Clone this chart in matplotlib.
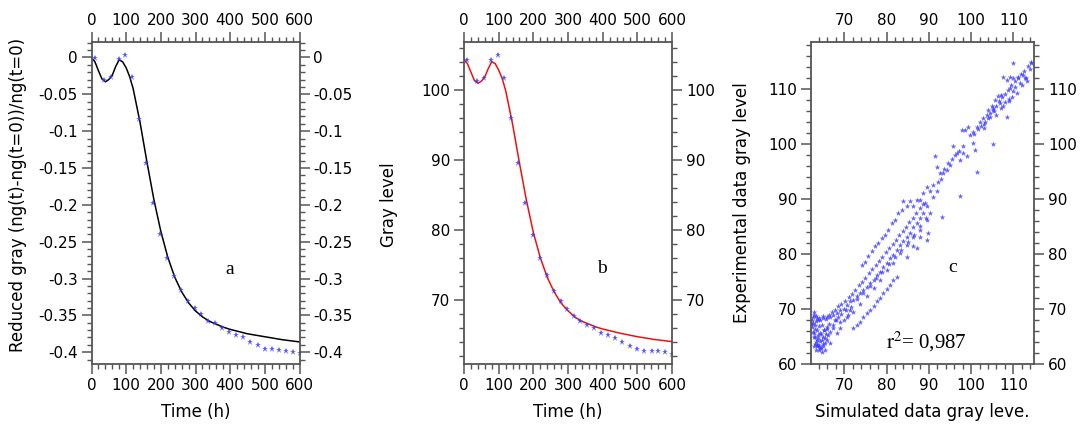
import matplotlib
matplotlib.use("Agg")
import matplotlib.pyplot as plt
from matplotlib.ticker import MultipleLocator, FuncFormatter

plt.rcParams['font.family'] = ['DejaVu Sans']
plt.rcParams['axes.unicode_minus'] = False
plt.rcParams['mathtext.fontset'] = 'stix'

# --- panel a / b : experimental points
t_exp = [10, 37, 57, 79, 97, 116, 136, 156, 177, 198, 218, 239, 259, 279, 298,
         317, 336, 356, 375, 396, 416, 437, 457, 479, 500, 520, 541, 560, 580, 600]
red_exp = [-0.001, -0.030, -0.027, -0.002, 0.004, -0.027, -0.083, -0.143, -0.197,
           -0.239, -0.272, -0.296, -0.315, -0.330, -0.340, -0.348, -0.357, -0.361,
           -0.367, -0.372, -0.376, -0.380, -0.386, -0.390, -0.395, -0.396, -0.397,
           -0.399, -0.400, -0.401]
gray_exp = [104.4, 101.3, 101.7, 104.4, 105.1, 101.7, 96.0, 89.6, 83.9, 79.4, 76.0,
            73.6, 71.4, 69.9, 68.8, 67.8, 67.0, 66.5, 66.0, 65.4, 65.1, 64.6, 64.1,
            63.5, 63.1, 62.8, 62.7, 62.7, 62.6, 62.4]

# --- panel a / b : model curves
t_mod = [0, 10, 20, 30, 40, 50, 60, 70, 80, 90, 100, 110, 120, 140, 160, 180, 200,
         220, 240, 260, 280, 300, 320, 340, 360, 380, 400, 450, 500, 550, 600]
red_mod = [0.0, -0.006, -0.018, -0.029, -0.033, -0.030, -0.024, -0.012, -0.003,
           -0.006, -0.014, -0.026, -0.042, -0.088, -0.142, -0.193, -0.236, -0.271,
           -0.298, -0.318, -0.333, -0.344, -0.352, -0.358, -0.362, -0.366, -0.369,
           -0.375, -0.379, -0.383, -0.386]
gray_mod = [104.4, 103.8, 102.6, 101.4, 101.0, 101.3, 101.9, 103.1, 104.1, 103.8,
            102.9, 101.7, 100.0, 95.2, 89.6, 84.3, 79.7, 76.1, 73.3, 71.2, 69.6,
            68.5, 67.6, 67.0, 66.6, 66.2, 65.9, 65.3, 64.8, 64.4, 64.1]

# --- panel c : simulated vs experimental gray level
sim = [62.3, 62.3, 62.7, 63.1, 63.5, 63.8, 64.2, 64.6, 65.0, 65.4, 65.8, 66.2, 66.6,
       67.4, 63.5, 64.2, 65.0, 63.1, 62.7, 62.8, 63.8, 64.6, 65.8, 64.2, 63.5, 65.4,
       66.6, 68.2, 69.0, 67.8, 68.6, 69.8, 70.9, 71.3,
       62.5, 63.0, 63.3, 64.0, 64.8, 65.2, 62.9, 63.7,
       89.5, 88.7, 87.9, 89.1, 87.1, 86.3, 85.5, 84.8, 84.0, 83.2, 82.4, 81.6, 80.8,
       80.0, 79.2, 78.4, 77.7, 76.9, 76.1, 75.3, 74.5, 73.7, 72.9, 72.1, 71.3, 70.6,
       69.8, 69.0, 68.2, 67.4, 66.6, 65.8, 65.0, 64.2, 63.5,
       90.3, 89.5, 87.9, 86.3, 84.8, 83.2, 81.6, 80.0, 78.4, 76.9, 75.3, 73.7, 72.1,
       70.6, 69.0, 67.4,
       72.1, 72.9, 73.7, 74.5, 75.3, 76.1, 76.9, 77.7, 78.4, 79.2, 80.0, 80.8, 81.6,
       82.4,
       84.8, 86.3, 87.9, 89.5,
       110.0, 114.3, 113.9, 112.4, 111.2, 110.0, 109.2, 108.4, 110.4, 109.2, 107.6,
       107.2, 106.4, 105.7, 104.9, 104.1, 103.7, 102.9, 102.1, 101.3, 100.5, 99.7,
       99.3, 98.6, 97.8, 105.3, 107.6, 108.4, 105.3, 101.3, 97.4, 93.0, 89.9, 87.1,
       100.5, 100.9, 99.0, 98.2, 96.6, 95.8, 97.4, 95.0, 94.2, 93.4, 92.6, 91.9, 91.5,
       92.2, 91.1, 90.3, 89.5, 88.7, 87.9, 87.1, 86.3, 85.5, 84.8, 84.0, 83.6, 82.8,
       82.0, 81.2, 80.4, 79.6, 78.8, 78.0, 77.3, 76.5, 75.7, 74.9, 74.1,
       111.5, 112.8, 113.2, 110.8, 109.6, 108.9, 106.8, 105.5, 104.6, 103.0,
       62.4, 62.6, 62.9, 63.2, 63.6, 64.0, 64.4, 64.9, 65.3, 65.7, 66.0, 66.4, 62.5,
       63.3, 64.0, 64.9, 65.6, 66.3, 67.0, 67.7, 68.4, 69.2, 63.0, 63.8, 64.5, 65.1,
       63.4, 64.1,
       70.2, 71.0, 71.8, 72.6, 73.4, 74.2, 75.0, 75.8, 76.6, 77.4, 78.2, 79.0, 79.8,
       80.6, 81.4, 82.2, 83.0, 83.8, 84.6, 85.4, 86.2, 87.0, 87.8, 88.6, 71.5, 73.0,
       74.5, 76.0, 77.5, 79.0, 80.5, 82.0, 83.5, 85.0, 86.5, 88.0, 89.3, 68.0, 69.3,
       70.4,
       104.5, 105.2, 105.9, 106.7, 107.4, 108.1, 108.8, 109.5, 110.3, 111.0, 111.8,
       112.6, 113.4, 114.2, 106.0, 107.0, 108.0, 109.0, 110.0, 103.2, 102.4, 101.6,
       100.8, 112.0, 113.0, 104.0, 103.0,
       92.8, 93.6, 94.5, 95.4, 96.3, 97.1, 98.0, 91.0, 92.0]
exper = [68.0, 66.8, 65.6, 65.0, 64.4, 63.5, 62.9, 62.2, 63.2, 63.8, 64.4, 65.3, 65.9,
         66.5, 66.2, 65.6, 65.0, 67.1, 68.9, 69.5, 68.0, 67.1, 66.8, 64.1, 63.2, 62.6,
         63.8, 65.6, 66.5, 68.0, 68.6, 68.0, 68.9, 69.8,
         67.5, 66.3, 67.8, 66.9, 64.3, 66.1, 63.3, 65.2,
         88.7, 87.4, 86.5, 89.3, 85.6, 85.0, 83.8, 83.2, 82.3, 81.7, 80.8, 79.9, 79.2,
         78.3, 77.7, 76.8, 76.2, 75.3, 74.7, 74.1, 73.5, 72.9, 72.3, 71.7, 71.4, 70.7,
         70.1, 69.8, 69.2, 68.9, 68.6, 68.6, 68.3, 68.0, 68.3,
         87.4, 86.2, 84.4, 83.2, 81.7, 80.2, 78.3, 77.1, 75.3, 73.8, 72.3, 71.0, 69.5,
         68.6, 67.7, 67.1,
         66.5, 67.1, 67.7, 68.6, 69.2, 69.8, 70.6, 71.4, 72.1, 72.9, 73.6, 74.4, 75.3,
         75.9,
         79.4, 81.4, 83.2, 82.6,
         114.8, 114.8, 113.6, 112.6, 112.3, 112.0, 112.3, 111.7, 110.5, 110.2, 112.3,
         109.0, 108.7, 108.1, 106.9, 106.3, 105.4, 104.7, 104.1, 103.2, 102.3, 101.7,
         103.2, 102.6, 102.6, 106.3, 106.9, 105.0, 100.0, 95.0, 90.5, 86.8, 83.8, 81.1,
         100.2, 99.0, 97.8, 98.4, 98.4, 99.6, 97.2, 96.2, 95.3, 94.7, 94.7, 95.9, 97.8,
         93.2, 92.6, 91.4, 92.3, 91.1, 89.9, 89.9, 88.7, 89.6, 88.7, 89.6, 88.0, 87.4,
         86.2, 85.6, 84.4, 83.5, 82.9, 82.0, 81.4, 80.5, 79.6, 78.6, 78.0,
         111.2, 112.0, 111.5, 109.4, 108.6, 107.9, 107.5, 106.0, 105.0, 103.6,
         67.2, 65.9, 64.9, 64.0, 63.4, 62.5, 62.9, 63.6, 64.7, 65.5, 66.4, 67.2, 68.5,
         68.7, 68.4, 68.8, 68.1, 68.9, 69.4, 69.9, 70.5, 71.0, 63.6, 64.8, 65.4, 66.1,
         62.6, 63.3,
         71.5, 72.2, 72.8, 73.5, 74.3, 75.0, 75.6, 76.5, 77.2, 78.0, 78.8, 79.5, 80.4,
         81.1, 81.8, 82.6, 83.5, 84.2, 85.0, 85.8, 86.6, 87.5, 88.4, 89.2, 70.3, 71.8,
         73.0, 74.2, 75.6, 76.8, 78.2, 79.4, 80.8, 82.2, 83.5, 85.2, 86.6, 68.0, 69.1,
         69.8,
         105.6, 106.5, 107.0, 107.8, 108.5, 109.1, 109.8, 110.8, 111.5, 112.1, 112.7,
         113.4, 114.2, 114.9, 105.4, 106.6, 107.6, 108.3, 109.6, 104.0, 103.4, 102.7,
         101.9, 110.7, 112.0, 104.8, 102.9,
         93.6, 95.4, 96.5, 97.3, 98.0, 98.7, 99.6, 90.4, 91.4]

pt_color = '#3a3aff'
spine_col = '#555555'
serif = ['Liberation Serif', 'DejaVu Serif']


def style_axis(ax):
    for s in ax.spines.values():
        s.set_color(spine_col)
        s.set_linewidth(1.3)
    ax.tick_params(which='both', direction='out', top=True, right=True,
                   labeltop=True, labelright=True, colors=spine_col,
                   labelcolor='black', labelsize=11)
    ax.tick_params(which='major', length=7, width=1.1, pad=3)
    ax.tick_params(which='minor', length=3.5, width=1.0)
    ax.yaxis.set_major_formatter(FuncFormatter(lambda v, p: '{:g}'.format(round(v, 3))))


fig = plt.figure(figsize=(10.87, 4.32), dpi=100)

# panel a
ax1 = fig.add_axes([91.5 / 1087, 68 / 432, 208 / 1087, 322 / 432])
ax1.plot(t_mod, red_mod, color='black', lw=1.1)
ax1.plot(t_exp, red_exp, linestyle='none', marker='*', ms=4.5, color=pt_color,
         alpha=0.85, markeredgewidth=0)
ax1.set_xlim(0, 600)
ax1.set_ylim(-0.416, 0.021)
ax1.xaxis.set_major_locator(MultipleLocator(100))
ax1.xaxis.set_minor_locator(MultipleLocator(20))
ax1.yaxis.set_major_locator(MultipleLocator(0.05))
ax1.yaxis.set_minor_locator(MultipleLocator(0.01))
style_axis(ax1)
ax1.set_xlabel('Time (h)', fontsize=12)
ax1.set_ylabel('Reduced gray (ng(t)-ng(t=0))/ng(t=0)', fontsize=12)
ax1.yaxis.set_label_coords(-0.31, 0.525)
ax1.xaxis.set_label_coords(0.5, -0.12)
ax1.text(400, -0.288, 'a', fontsize=14, family=serif, ha='center', va='center')

# panel b
ax2 = fig.add_axes([464 / 1087, 68 / 432, 208 / 1087, 322 / 432])
ax2.plot(t_mod, gray_mod, color='#ee1111', lw=1.1)
ax2.plot(t_exp, gray_exp, linestyle='none', marker='*', ms=4.5, color=pt_color,
         alpha=0.85, markeredgewidth=0)
ax2.set_xlim(0, 600)
ax2.set_ylim(60.9, 106.9)
ax2.xaxis.set_major_locator(MultipleLocator(100))
ax2.xaxis.set_minor_locator(MultipleLocator(20))
ax2.yaxis.set_major_locator(MultipleLocator(10))
ax2.yaxis.set_minor_locator(MultipleLocator(2))
style_axis(ax2)
ax2.set_xlabel('Time (h)', fontsize=12)
ax2.set_ylabel('Gray level', fontsize=12)
ax2.yaxis.set_label_coords(-0.315, 0.494)
ax2.xaxis.set_label_coords(0.5, -0.12)
ax2.text(398, 74.6, 'b', fontsize=14, family=serif, ha='center', va='center')

# panel c
ax3 = fig.add_axes([811 / 1087, 68 / 432, 223 / 1087, 322 / 432])
ax3.scatter(sim, exper, marker='*', s=18, color=pt_color, alpha=0.8, linewidths=0)
ax3.set_xlim(62.1, 114.9)
ax3.set_ylim(60, 118.6)
ax3.xaxis.set_major_locator(MultipleLocator(10))
ax3.xaxis.set_minor_locator(MultipleLocator(2))
ax3.yaxis.set_major_locator(MultipleLocator(10))
ax3.yaxis.set_minor_locator(MultipleLocator(2))
style_axis(ax3)
ax3.set_xlabel('Simulated data gray leve.', fontsize=12)
ax3.set_ylabel('Experimental data gray level', fontsize=12)
ax3.yaxis.set_label_coords(-0.27, 0.5)
ax3.xaxis.set_label_coords(0.5, -0.12)
ax3.text(95.7, 77.5, 'c', fontsize=14, family=serif, ha='center', va='center')
ax3.text(89.5, 64.1, r'$\mathrm{r}^{2}$= 0,987', fontsize=15, family=serif,
         ha='center', va='center')

fig.savefig('out.png', dpi=100)
